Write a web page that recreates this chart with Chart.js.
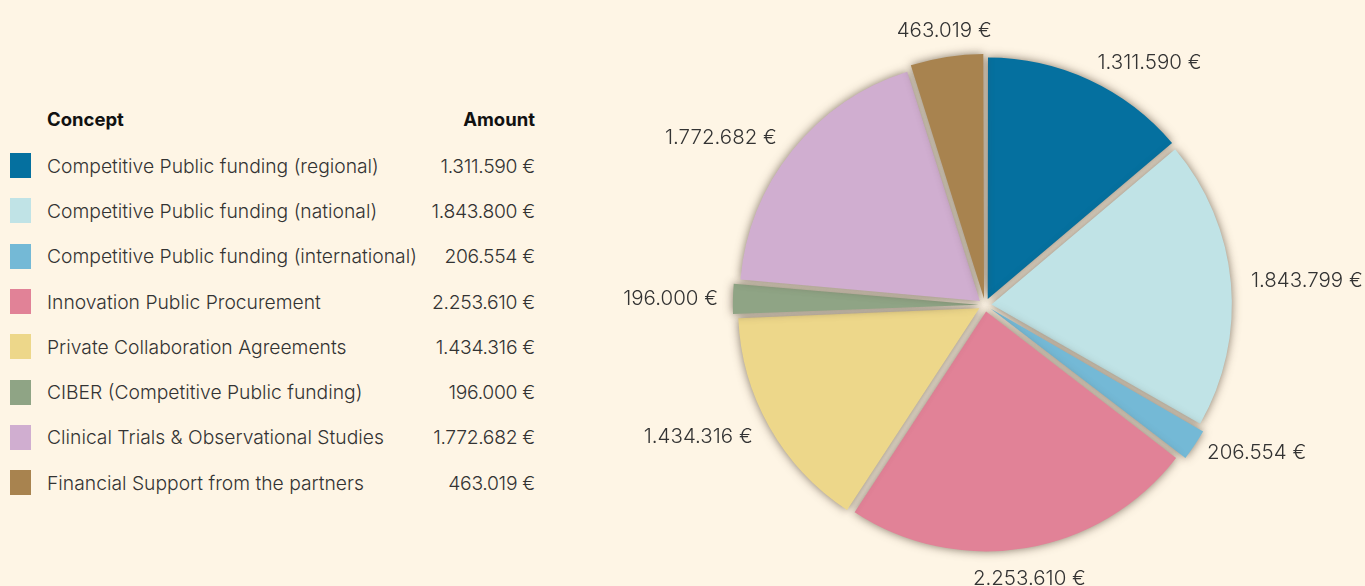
<!DOCTYPE html>
<html lang="en">
<head>
  <meta charset="UTF-8" />
  <title>Funding by concept</title>
  <script src="https://cdn.jsdelivr.net/npm/chart.js"></script>
  <style>
    body { margin: 0; background: #fef5e5; width: 1365px; height: 586px; overflow: hidden; position: relative;
           font-family: Inter, sans-serif; color: #333; }
    .legend { position: absolute; left: 10px; top: 108px; width: 525px; }
    .legend .head { display: flex; justify-content: space-between; padding-left: 37px; height: 35px;
                    font-weight: 700; color: #111; font-size: 18.5px; }
    .legend .row { display: flex; align-items: center; height: 45.3px; font-size: 19.3px; font-weight: 300; }
    .legend .sw { width: 21px; height: 25px; margin-right: 16px; flex: none; }
    .legend .name { flex: 1; }
    .legend .amt { letter-spacing: -0.3px; }
    .chart-box { position: absolute; left: 585px; top: 0; width: 780px; height: 586px; }
  </style>
</head>
<body>
  <div class="legend" id="legend">
    <div class="head"><span>Concept</span><span>Amount</span></div>
  </div>
  <div class="chart-box"><canvas id="pieCanvas"></canvas></div>

  <script>
    const concepts = [
      'Competitive Public funding (regional)',
      'Competitive Public funding (national)',
      'Competitive Public funding (international)',
      'Innovation Public Procurement',
      'Private Collaboration Agreements',
      'CIBER (Competitive Public funding)',
      'Clinical Trials & Observational Studies',
      'Financial Support from the partners'
    ];
    const amounts = [1311590, 1843800, 206554, 2253610, 1434316, 196000, 1772682, 463019];
    const pieLabels = ['1.311.590 €', '1.843.799 €', '206.554 €', '2.253.610 €', '1.434.316 €', '196.000 €', '1.772.682 €', '463.019 €'];
    const colors = ['#05709f', '#c0e3e6', '#74b9d6', '#e18297', '#edd78a', '#8fa485', '#d0aed0', '#a8834f'];

    // legend table
    const legend = document.getElementById('legend');
    concepts.forEach((c, i) => {
      const row = document.createElement('div');
      row.className = 'row';
      row.innerHTML = '<span class="sw" style="background:' + colors[i] + '"></span>' +
        '<span class="name"></span><span class="amt"></span>';
      row.querySelector('.name').textContent = c;
      row.querySelector('.amt').textContent = amounts[i].toLocaleString('de-DE') + ' €';
      legend.appendChild(row);
    });

    const sliceShadow = {
      id: 'sliceShadow',
      beforeDatasetsDraw(chart) {
        const ctx = chart.ctx;
        ctx.save();
        ctx.shadowColor = 'rgba(80,65,50,0.7)';
        ctx.shadowBlur = 10;
      },
      afterDatasetsDraw(chart) {
        chart.ctx.restore();
      }
    };

    // value labels outside the slices; nearest edge of the text sits on the ring
    const outsideLabels = {
      id: 'outsideLabels',
      afterDraw(chart) {
        const ctx = chart.ctx;
        const meta = chart.getDatasetMeta(0);
        ctx.save();
        ctx.font = '300 20.5px Inter, sans-serif';
        ctx.fillStyle = '#333';
        meta.data.forEach((arc, i) => {
          const p = arc.getProps(['x', 'y', 'startAngle', 'endAngle']);
          const mid = (p.startAngle + p.endAngle) / 2;
          const r = 267;
          const c = Math.cos(mid), s = Math.sin(mid);
          ctx.textAlign = c > 0.3 ? 'left' : (c < -0.3 ? 'right' : 'center');
          if (Math.abs(c) <= 0.3) {
            ctx.textBaseline = s < 0 ? 'bottom' : 'top';
          } else {
            ctx.textBaseline = 'middle';
          }
          ctx.fillText(pieLabels[i], p.x + c * r, p.y + s * r);
        });
        ctx.restore();
      }
    };

    new Chart(document.getElementById('pieCanvas'), {
      type: 'pie',
      data: {
        labels: concepts,
        datasets: [{
          data: amounts,
          backgroundColor: colors,
          borderWidth: 0,
          offset: 26,
          radius: 240
        }]
      },
      options: {
        responsive: true,
        maintainAspectRatio: false,
        animation: false,
        layout: { padding: { left: 20, right: 0, top: 24, bottom: 0 } },
        plugins: { legend: { display: false }, tooltip: { enabled: false } }
      },
      plugins: [sliceShadow, outsideLabels]
    });
  </script>
</body>
</html>
